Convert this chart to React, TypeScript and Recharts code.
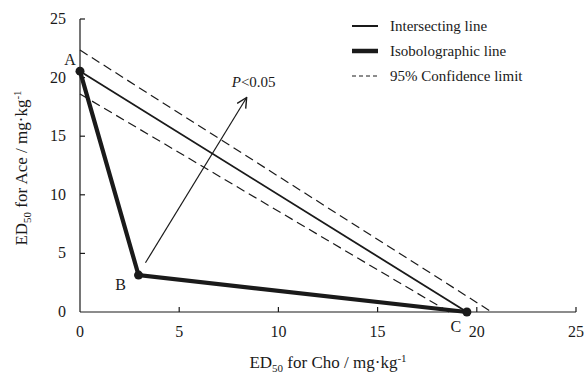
import { LineChart, Line, XAxis, YAxis, LabelList } from 'recharts';

const xTicks = [0, 5, 10, 15, 20, 25];
const yTicks = [0, 5, 10, 15, 20, 25];

const pointNames = ['A', 'B', 'C'];
const isoX = [0, 2.95, 19.5];
const isoY = [20.55, 3.15, 0];

const interX = [0, 19.5];
const interY = [20.55, 0];

const upperX = [0, 20.75];
const upperY = [22.35, 0];
const lowerX = [0, 18.6];
const lowerY = [18.6, 0];

const arrowX = [3.3, 8.4];
const arrowY = [4.2, 18.3];

const legendLabels = ['Intersecting line', 'Isobolographic line', '95% Confidence limit'];

const iso = isoX.map((x, i) => ({ x, y: isoY[i], name: pointNames[i] }));
const inter = interX.map((x, i) => ({ x, y: interY[i] }));
const upper = upperX.map((x, i) => ({ x, y: upperY[i] }));
const lower = lowerX.map((x, i) => ({ x, y: lowerY[i] }));
const arrow = arrowX.map((x, i) => ({ x, y: arrowY[i] }));

const FONT = '"Liberation Serif", "DejaVu Serif", serif';
const INK = '#1a1a1a';

// label offsets for A, B, C
const nameOffsets = [
  { dx: -10, dy: -6 },
  { dx: -18, dy: 15 },
  { dx: -11, dy: 20 },
];

function XTick({ x, y, payload }: any) {
  return (
    <g>
      {payload.value !== 0 && <line x1={x} y1={y} x2={x} y2={y - 5} stroke={INK} strokeWidth={1.2} />}
      <text x={x} y={y + 25} textAnchor="middle" style={{ fontFamily: FONT }} fontSize={16} fill={INK}>
        {payload.value}
      </text>
    </g>
  );
}

function YTick({ x, y, payload }: any) {
  return (
    <g>
      {payload.value !== 0 && <line x1={x} y1={y} x2={x + 5} y2={y} stroke={INK} strokeWidth={1.2} />}
      <text x={x - 14} y={y + 5} textAnchor="end" style={{ fontFamily: FONT }} fontSize={16} fill={INK}>
        {payload.value}
      </text>
    </g>
  );
}

function LegendBox() {
  const styles = [
    { width: 2, dash: undefined },
    { width: 4.5, dash: undefined },
    { width: 1, dash: '4 3' },
  ];
  return (
    <svg width={230} height={80} style={{ position: 'absolute', left: 350, top: 14 }}>
      {legendLabels.map((label, i) => (
        <g key={label}>
          <line x1={2} x2={28} y1={12 + i * 25} y2={12 + i * 25} stroke={INK} strokeWidth={styles[i].width} strokeDasharray={styles[i].dash} />
          <text x={40} y={17 + i * 25} style={{ fontFamily: FONT }} fontSize={15} fill={INK}>
            {label}
          </text>
        </g>
      ))}
    </svg>
  );
}

export default function App() {
  return (
    <div style={{ position: 'absolute', left: 0, top: 0, width: 586, height: 374, background: '#fff' }}>
      <LineChart width={586} height={374} margin={{ top: 19, right: 10, left: 40, bottom: 32 }}>
        <defs>
          <marker id="arrowHead" viewBox="0 0 12 12" refX="11" refY="6" markerWidth="12" markerHeight="12" orient="auto" markerUnits="userSpaceOnUse">
            <path d="M1,1 L11,6 L1,11" fill="none" stroke={INK} strokeWidth={1.4} />
          </marker>
        </defs>
        <XAxis
          dataKey="x"
          type="number"
          domain={[0, 25]}
          ticks={xTicks}
          allowDuplicatedCategory={false}
          tickLine={false}
          tickSize={0}
          tickMargin={0}
          height={30}
          axisLine={{ stroke: INK, strokeWidth: 1.2 }}
          tick={<XTick />}
          label={{
            position: 'insideBottom',
            content: () => (
              <text x={328} y={368} textAnchor="middle" style={{ fontFamily: FONT }} fontSize={17} fill={INK}>
                ED<tspan fontSize={11} dy={4}>50</tspan>
                <tspan dy={-4}> for Cho / mg·kg</tspan>
                <tspan fontSize={11} dy={-6}>-1</tspan>
              </text>
            ),
          }}
        />
        <YAxis
          dataKey="y"
          type="number"
          domain={[0, 25]}
          ticks={yTicks}
          tickLine={false}
          tickSize={0}
          tickMargin={0}
          width={40}
          axisLine={{ stroke: INK, strokeWidth: 1.2 }}
          tick={<YTick />}
          label={{
            position: 'insideLeft',
            content: () => (
              <text x={27} y={168} transform="rotate(-90 27 168)" textAnchor="middle" style={{ fontFamily: FONT }} fontSize={17} fill={INK}>
                ED<tspan fontSize={11} dy={4}>50</tspan>
                <tspan dy={-4}> for Ace / mg·kg</tspan>
                <tspan fontSize={11} dy={-6}>-1</tspan>
              </text>
            ),
          }}
        />
        <Line data={upper} dataKey="y" stroke={INK} strokeWidth={1.2} strokeDasharray="9 5" dot={false} isAnimationActive={false} />
        <Line data={lower} dataKey="y" stroke={INK} strokeWidth={1.2} strokeDasharray="9 5" dot={false} isAnimationActive={false} />
        <Line data={inter} dataKey="y" stroke={INK} strokeWidth={1.8} dot={false} isAnimationActive={false} />
        <Line
          data={arrow}
          dataKey="y"
          stroke={INK}
          strokeWidth={1.2}
          dot={false}
          markerEnd="url(#arrowHead)"
          isAnimationActive={false}
        >
          <LabelList
            dataKey="y"
            content={(p: any) =>
              p.index === 1 ? (
                <text x={p.x + 7} y={p.y - 11} textAnchor="middle" style={{ fontFamily: FONT }} fontSize={15} fill={INK}>
                  <tspan fontStyle="italic">P</tspan>&lt;0.05
                </text>
              ) : null
            }
          />
        </Line>
        <Line
          data={iso}
          dataKey="y"
          stroke={INK}
          strokeWidth={4.2}
          dot={{ r: 4.5, fill: INK, stroke: INK, strokeWidth: 0 }}
          isAnimationActive={false}
        >
          <LabelList
            dataKey="name"
            content={(p: any) => (
              <text
                x={p.x + nameOffsets[p.index].dx}
                y={p.y + nameOffsets[p.index].dy}
                textAnchor="middle"
                style={{ fontFamily: FONT }}
                fontSize={16}
                fill={INK}
              >
                {p.value}
              </text>
            )}
          />
        </Line>
      </LineChart>
      <LegendBox />
    </div>
  );
}
